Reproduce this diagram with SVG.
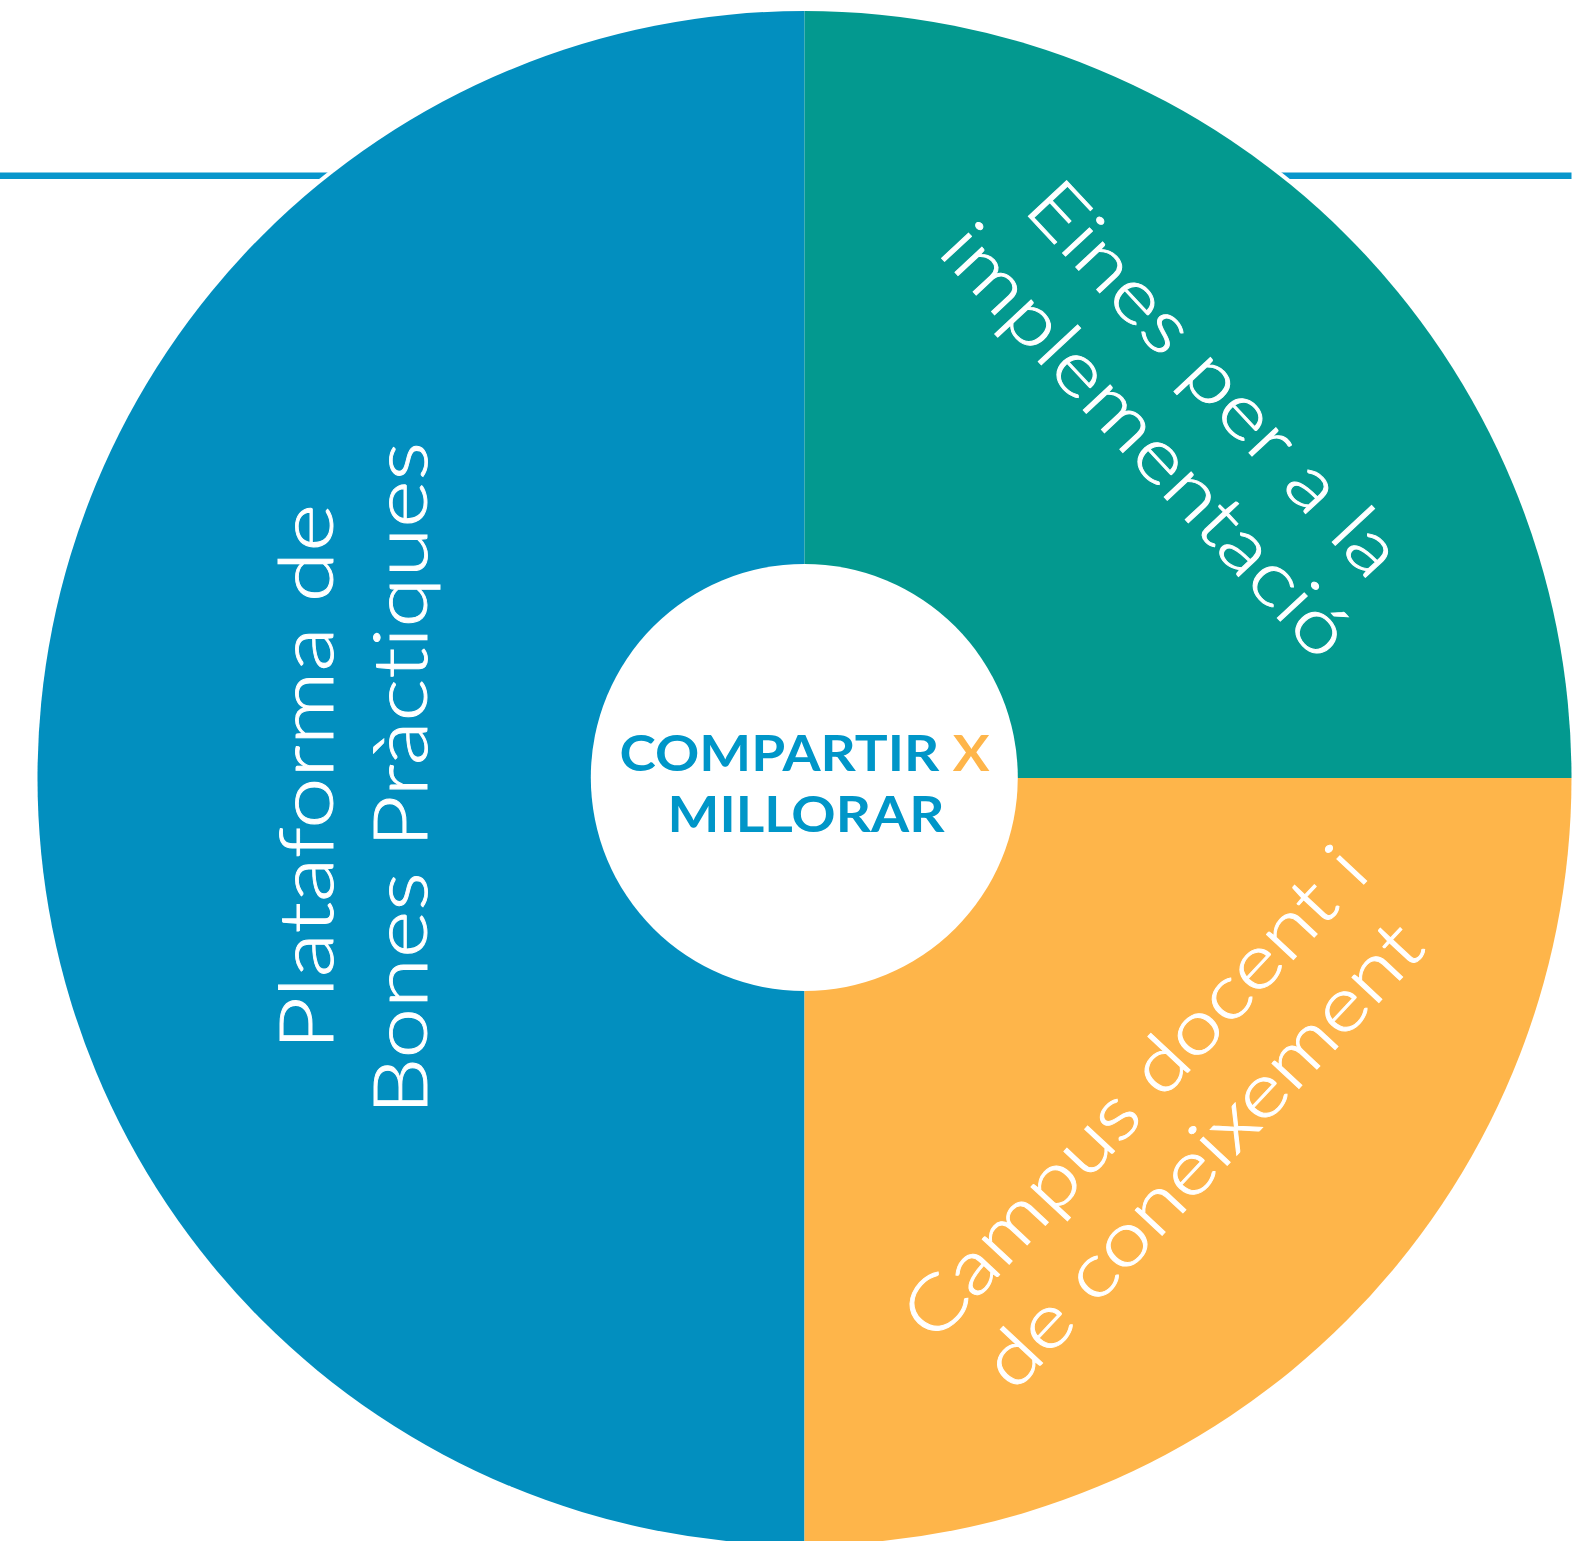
<svg xmlns="http://www.w3.org/2000/svg" width="1592" height="1541" viewBox="0 0 1592 1541">
<style>
.seg-text{font-family:Lato,"Liberation Sans",sans-serif;font-weight:300;font-size:74px;fill:#ffffff;stroke:#ffffff;stroke-width:0.9px;text-anchor:middle;font-variant-ligatures:none;font-feature-settings:"liga" 0,"dlig" 0}
.center-text{font-family:Lato,"Liberation Sans",sans-serif;font-weight:700;font-size:50px;fill:#0096c8;text-anchor:middle;font-variant-ligatures:none}
.accent{fill:#feb54a}
</style>
<rect x="0" y="0" width="1592" height="1541" fill="#ffffff"/>
<g id="connectors">
<rect x="0" y="172.5" width="330" height="6.5" fill="#0896cc"/>
<rect x="1260" y="172.5" width="311.5" height="6.5" fill="#0896cc"/>
</g>
<circle cx="804.5" cy="778" r="771" fill="#ffffff"/>
<g id="segment-plataforma">
<path d="M 804.5 11 A 767 767 0 0 0 804.5 1545 Z" fill="#028fbf"/>
<text class="seg-text" transform="translate(333,777) rotate(-90)" textLength="546" lengthAdjust="spacingAndGlyphs">Plataforma de</text>
<text class="seg-text" transform="translate(427,778.5) rotate(-90)" textLength="673" lengthAdjust="spacingAndGlyphs">Bones Pràctiques</text>
</g>
<g id="segment-eines">
<path d="M 804.5 778 L 804.5 11 A 767 767 0 0 1 1571.5 778 Z" fill="#03998f"/>
<text class="seg-text" transform="translate(1196,396) rotate(47)" textLength="510" lengthAdjust="spacingAndGlyphs">Eines per a la</text>
<text class="seg-text" transform="translate(1128,458) rotate(47)" textLength="562" lengthAdjust="spacingAndGlyphs">implementació</text>
</g>
<g id="segment-campus">
<path d="M 804.5 778 L 1571.5 778 A 767 767 0 0 1 804.5 1545 Z" fill="#feb54a"/>
<text class="seg-text" transform="translate(1153,1110) rotate(-47)" textLength="642" lengthAdjust="spacingAndGlyphs">Campus docent i</text>
<text class="seg-text" transform="translate(1221,1172) rotate(-47)" textLength="606" lengthAdjust="spacingAndGlyphs">de coneixement</text>
</g>
<g id="center">
<circle cx="804.3" cy="777.5" r="213.5" fill="#ffffff"/>
<text class="center-text" x="804.5" y="770.5" textLength="370" lengthAdjust="spacingAndGlyphs">COMPARTIR <tspan class="accent">X</tspan></text>
<text class="center-text" x="806" y="831.5" textLength="277" lengthAdjust="spacingAndGlyphs">MILLORAR</text>
</g>
</svg>
